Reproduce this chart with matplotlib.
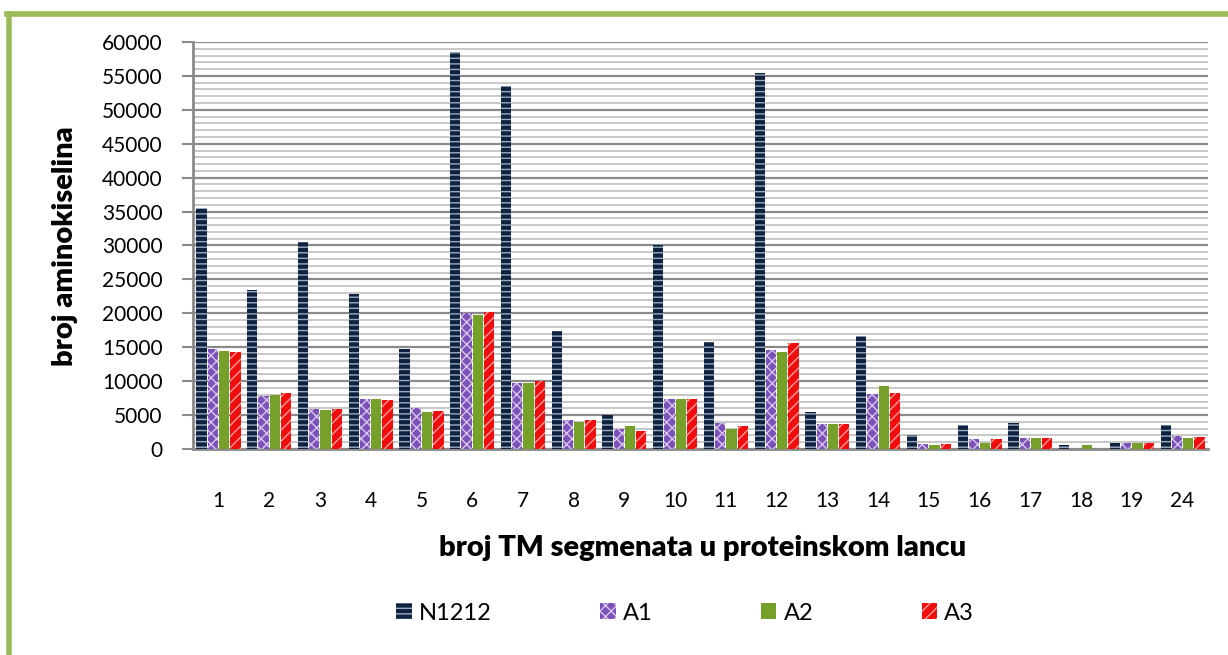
#!/usr/bin/env python3
# -*- coding: utf-8 -*-
"""
broj aminokiselina po broju TM segmenata (N1212, A1, A2, A3)
"""

import numpy as np
import matplotlib
matplotlib.use('Agg')
import matplotlib.pyplot as plt
from matplotlib.lines import Line2D

# values
segments = ['1', '2', '3', '4', '5', '6', '7', '8', '9', '10',
            '11', '12', '13', '14', '15', '16', '17', '18', '19', '24']
n1212 = [35500, 23500, 30500, 22900, 14800, 58500, 53500, 17450, 4950, 30000,
         15800, 55400, 5450, 16700, 2000, 3500, 3850, 650, 900, 3500]
a1 = [14800, 7750, 5950, 7400, 6050, 20050, 9750, 4300, 3000, 7400,
      3850, 14650, 3700, 8100, 750, 1450, 1600, 0, 950, 1950]
a2 = [14500, 8000, 5800, 7350, 5400, 19800, 9750, 4050, 3350, 7400,
      3000, 14300, 3700, 9250, 650, 900, 1650, 650, 900, 1650]
a3 = [14350, 8250, 5950, 7250, 5650, 20200, 10050, 4300, 2600, 7400,
      3400, 15650, 3700, 8250, 700, 1450, 1650, 0, 900, 1800]
series_names = ['N1212', 'A1', 'A2', 'A3']

plt.rcParams['font.family'] = ['Lato', 'DejaVu Sans']
plt.rcParams['hatch.linewidth'] = 1.0

fig = plt.figure(figsize=(12.28, 6.55), dpi=100)
ax = fig.add_axes([0.1572, 0.3145, 0.8265, 0.6214])

x = np.arange(len(segments))
w = 0.205
step = 0.222
styles = [
    dict(color='#0f2340', hatch='---', edgecolor='#9aaabf'),
    dict(color='#7d52b8', hatch='xxx', edgecolor='#d6c6ee'),
    dict(color='#77a02a', hatch=None, edgecolor='#77a02a'),
    dict(color='#f00d0d', hatch='///', edgecolor='#ff9a9a'),
]
data = [n1212, a1, a2, a3]
for i, (vals, st) in enumerate(zip(data, styles)):
    ax.bar(x + (i - 1.5) * step, vals, width=w, color=st['color'],
           hatch=st['hatch'], edgecolor=st['edgecolor'], linewidth=0,
           zorder=3, label=series_names[i])

ax.set_xlim(-0.5, len(segments) - 0.5)
ax.set_ylim(0, 60000)
ax.set_yticks(np.arange(0, 60001, 5000))
ax.set_yticks(np.arange(0, 60001, 1000), minor=True)
ax.grid(which='major', axis='y', color='#8a8a8a', lw=1.6, zorder=0)
ax.grid(which='minor', axis='y', color='#c4c4c4', lw=1.3, zorder=0)
ax.set_xticks(x)
ax.set_xticklabels(segments)
ax.tick_params(axis='x', length=0, pad=30, labelsize=15)
ax.tick_params(axis='y', which='major', length=8, width=1.5, color='#8a8a8a',
               pad=14, labelsize=15)
ax.tick_params(axis='y', which='minor', length=0)
for s in ['top', 'right']:
    ax.spines[s].set_visible(False)
for s in ['left', 'bottom']:
    ax.spines[s].set_color('#8a8a8a')
    ax.spines[s].set_linewidth(2)

fig.text(0.572, 1 - 548 / 655, 'broj TM segmenata u proteinskom lancu',
         ha='center', va='center', fontsize=21, fontweight='heavy')
fig.text(0.053, 1 - 246 / 655, 'broj aminokiselina', rotation=90,
         ha='center', va='center', fontsize=21, fontweight='heavy')

handles, labels = ax.get_legend_handles_labels()
fig.legend(handles, labels, ncol=4, loc='center', bbox_to_anchor=(0.558, 1 - 613 / 655),
           frameon=False, fontsize=17, handlelength=0.65, handleheight=0.65,
           handletextpad=0.3, columnspacing=4.6)

# green frame of the chart object
fig.add_artist(Line2D([9 / 1228, 9 / 1228], [0, 1 - 14 / 655], color='#9bbb59',
                      lw=4, transform=fig.transFigure))
fig.add_artist(Line2D([7 / 1228, 1], [1 - 14 / 655, 1 - 14 / 655], color='#9bbb59',
                      lw=4, transform=fig.transFigure))

fig.savefig('out.png', dpi=100)
